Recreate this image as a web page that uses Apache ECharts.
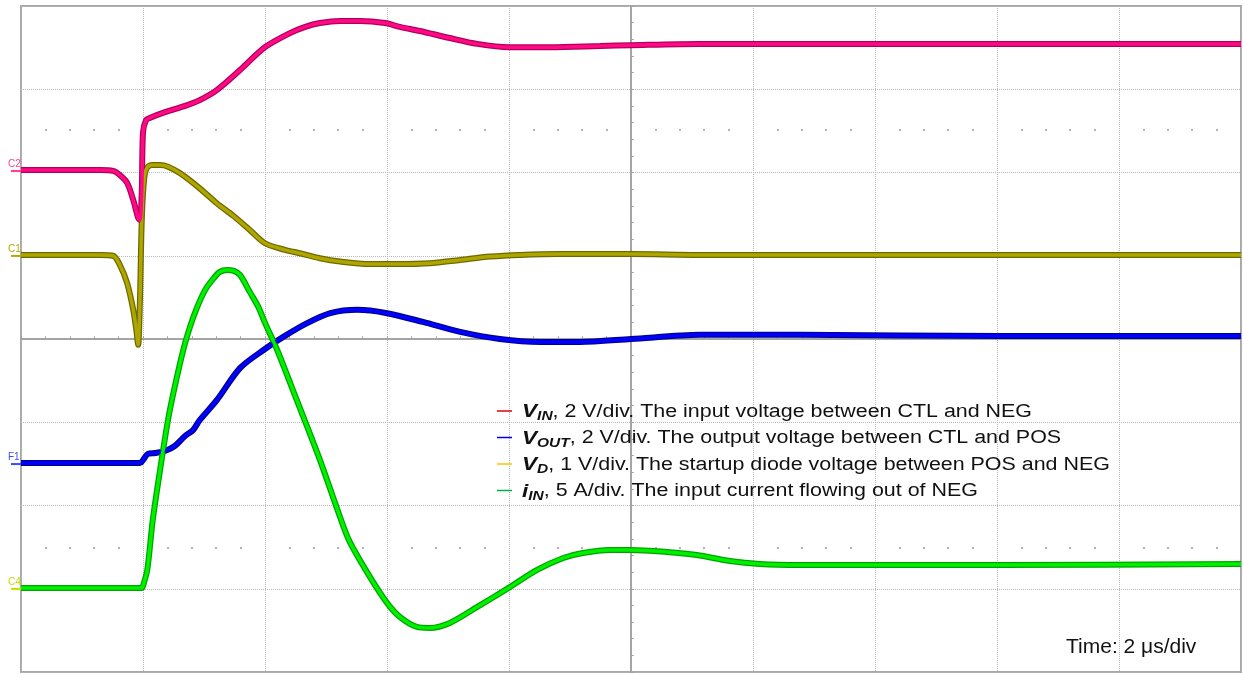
<!DOCTYPE html>
<html><head><meta charset="utf-8">
<script src="https://cdn.jsdelivr.net/npm/echarts@6/dist/echarts.min.js"></script>
<style>html,body{margin:0;padding:0;background:#fff}#c{width:1243px;height:675px}</style>
</head><body><div id="c"></div>
<script>
// time in microseconds relative to the trigger; values in channel units (V or A)
const vinT = [-2.00,-1.36,-0.70,-0.49,-0.38,-0.26,-0.16,-0.08,-0.05,-0.02,0.00,0.05,0.11,0.36,0.69,0.93,1.21,1.59,2.00,2.41,2.66,2.90,3.23,3.56,3.97,4.21,4.54,5.03,5.48,6.00,6.67,7.49,8.00,9.13,10.77,14.05,18.00];
const vinV = [0,0,0,-0.02,-0.12,-0.31,-0.72,-1.15,-1.20,-0.50,0.90,1.20,1.25,1.39,1.54,1.68,1.92,2.40,2.95,3.29,3.44,3.53,3.58,3.58,3.53,3.44,3.34,3.17,3.03,2.95,2.95,2.98,3.00,3.03,3.03,3.03,3.03];

const voutT = [-2.00,-0.70,-0.05,0.00,0.08,0.20,0.36,0.52,0.69,0.82,0.93,1.21,1.59,1.97,2.30,2.69,3.07,3.51,4.00,4.59,5.20,5.85,6.51,7.16,8.00,9.13,10.77,14.05,18.00];
const voutV = [0,0,0,0.07,0.22,0.24,0.29,0.41,0.65,0.79,1.03,1.51,2.28,2.71,3.03,3.36,3.60,3.68,3.60,3.39,3.15,2.98,2.91,2.91,2.98,3.08,3.08,3.05,3.05];

const vdT = [-2.00,-0.70,-0.49,-0.38,-0.26,-0.16,-0.11,-0.08,-0.05,-0.02,0.02,0.07,0.16,0.28,0.41,0.61,0.93,1.21,1.48,1.75,2.00,2.33,2.57,2.90,3.23,3.72,4.21,4.70,5.20,5.69,6.18,6.84,8.00,9.13,18.00];
const vdV = [0,0,-0.01,-0.12,-0.34,-0.66,-0.90,-1.08,-0.54,0.42,0.92,1.05,1.08,1.08,1.06,0.98,0.80,0.62,0.47,0.30,0.14,0.06,0.02,-0.04,-0.08,-0.11,-0.11,-0.10,-0.06,-0.02,0,0.01,0.01,0,0];

const iinT = [-2.00,-0.70,-0.02,0.00,0.07,0.16,0.28,0.41,0.52,0.66,0.77,0.89,1.02,1.15,1.26,1.38,1.49,1.59,1.75,1.89,2.00,2.20,2.52,2.90,3.23,3.39,3.72,4.00,4.21,4.49,4.70,5.03,5.48,6.02,6.46,6.89,7.21,7.66,7.98,8.59,9.08,9.62,10.11,10.77,14.05,18.00];
const iinA = [0,0,0,0.12,1.08,4.08,7.09,10.09,12.07,14.29,15.68,16.88,17.90,18.56,18.98,19.10,19.04,18.80,17.78,16.88,15.92,14.29,11.29,7.69,4.26,2.76,0.66,-0.90,-1.74,-2.34,-2.40,-2.10,-1.14,0.06,1.08,1.80,2.10,2.28,2.28,2.16,1.98,1.62,1.44,1.38,1.38,1.44];

// channel settings: units per division and ground-marker offset (divisions from screen centre)
const chNames   = ['VIN','VOUT','VD','IIN'];
const chLabels  = ['C2','F1','C1','C4'];
const chScale   = [2, 2, 1, 5];
const chOffset  = [2.03, -1.49, 1.01, -2.99];
const chTimes   = [vinT, voutT, vdT, iinT];
const chValues  = [vinV, voutV, vdV, iinA];
const traceColor = ['#ff0a84','#0000ff','#aea600','#00f000'];
const edgeColor  = ['#b0005c','#000090','#6e6800','#00a400'];
const markColor  = ['#ff3d9a','#3a4cff','#b5a800','#c4dc00'];
const legendColor = ['#e00000','#0000ee','#ffc000','#00b050'];
const legendText = [
  '{v|V}{s|IN}{t|, 2 V/div. The input voltage between CTL and NEG}',
  '{v|V}{s|OUT}{t|, 2 V/div. The output voltage between CTL and POS}',
  '{v|V}{s|D}{t|, 1 V/div. The startup diode voltage between POS and NEG}',
  '{v|i}{s|IN}{t|, 5 A/div. The input current flowing out of NEG}'
];
const timeText = 'Time: 2 \u03bcs/div';
const drawOrder = [1, 2, 0, 3];

const FONT = '"Liberation Sans", Arial, Helvetica, sans-serif';

function toDiv(ch) {
  return chTimes[ch].map((t, i) => [t, chOffset[ch] + chValues[ch][i] / chScale[ch]]);
}

const series = [];
drawOrder.forEach(ch => {
  series.push({
    name: chNames[ch] + '_edge', type: 'line', data: toDiv(ch), showSymbol: false, symbol: 'none',
    smooth: 0.3, z: 2, silent: true,
    lineStyle: { color: edgeColor[ch], width: 6 }
  });
});
drawOrder.forEach(ch => {
  series.push({
    name: chNames[ch], type: 'line', data: toDiv(ch), showSymbol: false, symbol: 'none',
    smooth: 0.3, z: 3, silent: true,
    lineStyle: { color: traceColor[ch], width: 3.5 }
  });
});

const dotsAxis = (pos) => ({
  type: 'value', min: -2, max: 18, interval: 2, position: pos, offset: -124.9,
  axisLine: { show: false }, axisTick: { show: false }, axisLabel: { show: false },
  splitLine: { show: false },
  minorTick: { show: true, splitNumber: 5, length: 2, lineStyle: { color: '#9a9a9a', width: 1.5 } }
});
const centreX = (inside) => ({
  type: 'value', min: -2, max: 18, interval: 2,
  axisLine: { show: true, onZero: true, onZeroAxisIndex: 0, lineStyle: { color: '#a0a0a0', width: 1.5 } },
  axisTick: { show: true, inside: inside, length: 2.5, lineStyle: { color: '#a0a0a0', width: 1 } },
  minorTick: { show: true, splitNumber: 5, length: 2.5, lineStyle: { color: '#a0a0a0', width: 1 } },
  axisLabel: { show: false },
  splitLine: { show: inside, lineStyle: { type: [1, 1], color: '#b8b8b8', width: 1 } }
});
const centreY = (inside) => ({
  type: 'value', min: -4, max: 4, interval: 1,
  axisLine: { show: true, onZero: true, onZeroAxisIndex: 1, lineStyle: { color: '#a0a0a0', width: 1.5 } },
  axisTick: { show: true, inside: inside, length: 2.5, lineStyle: { color: '#a0a0a0', width: 1 } },
  minorTick: { show: true, splitNumber: 5, length: 2.5, lineStyle: { color: '#a0a0a0', width: 1 } },
  axisLabel: { show: false },
  splitLine: { show: inside, lineStyle: { type: [1, 1], color: '#b8b8b8', width: 1 } }
});

const chart = echarts.init(document.getElementById('c'), null, { renderer: 'canvas' });
chart.setOption({
  animation: false,
  backgroundColor: '#ffffff',
  textStyle: { fontFamily: FONT },
  grid: { left: 21, right: 2, top: 6, bottom: 3, show: true, borderColor: '#a8a8a8', borderWidth: 2, containLabel: false },
  xAxis: [
    centreX(true),
    { type: 'value', min: -10, max: 10, show: false },
    dotsAxis('top'),
    dotsAxis('bottom'),
    centreX(false)
  ],
  yAxis: [centreY(true), centreY(false)],
  series: series
});

// channel ground markers, legend and time base text, positioned through the axes where relevant
const graphics = [];
chNames.forEach((n, ch) => {
  const p = chart.convertToPixel({ xAxisIndex: 0, yAxisIndex: 0 }, [-2, chOffset[ch]]);
  graphics.push({
    type: 'line', shape: { x1: p[0] - 10, y1: p[1] + 1, x2: p[0], y2: p[1] + 1 },
    style: { stroke: markColor[ch], lineWidth: 2 }, z: 10
  });
  graphics.push({
    type: 'text', x: p[0] - 13, y: p[1] - 11,
    style: { text: chLabels[ch], fill: markColor[ch], font: '10px ' + FONT }, z: 10
  });
});
const rich = {
  v: { fontFamily: FONT, fontSize: 19, fontWeight: 'bold', fontStyle: 'italic', fill: '#111', lineHeight: 22 },
  s: { fontFamily: FONT, fontSize: 13, fontWeight: 'bold', fontStyle: 'italic', fill: '#111', lineHeight: 13, verticalAlign: 'bottom' },
  t: { fontFamily: FONT, fontSize: 18, fill: '#111', lineHeight: 22 }
};
chNames.forEach((n, ch) => {
  const y = 411 + ch * 26.5;
  graphics.push({
    type: 'line', shape: { x1: 497, y1: y, x2: 512, y2: y },
    style: { stroke: legendColor[ch], lineWidth: 1.5 }, z: 10
  });
  graphics.push({
    type: 'text', x: 522, y: y + 1, scaleX: 1.19, z: 10,
    style: { text: legendText[ch], rich: rich, verticalAlign: 'middle', align: 'left', fill: '#111', font: '18px ' + FONT }
  });
});
graphics.push({
  type: 'text', x: 1066, y: 647, z: 10,
  style: { text: timeText, fill: '#111', font: '21px ' + FONT, verticalAlign: 'middle', align: 'left' }
});
chart.setOption({ graphic: graphics });
</script>
</body></html>
